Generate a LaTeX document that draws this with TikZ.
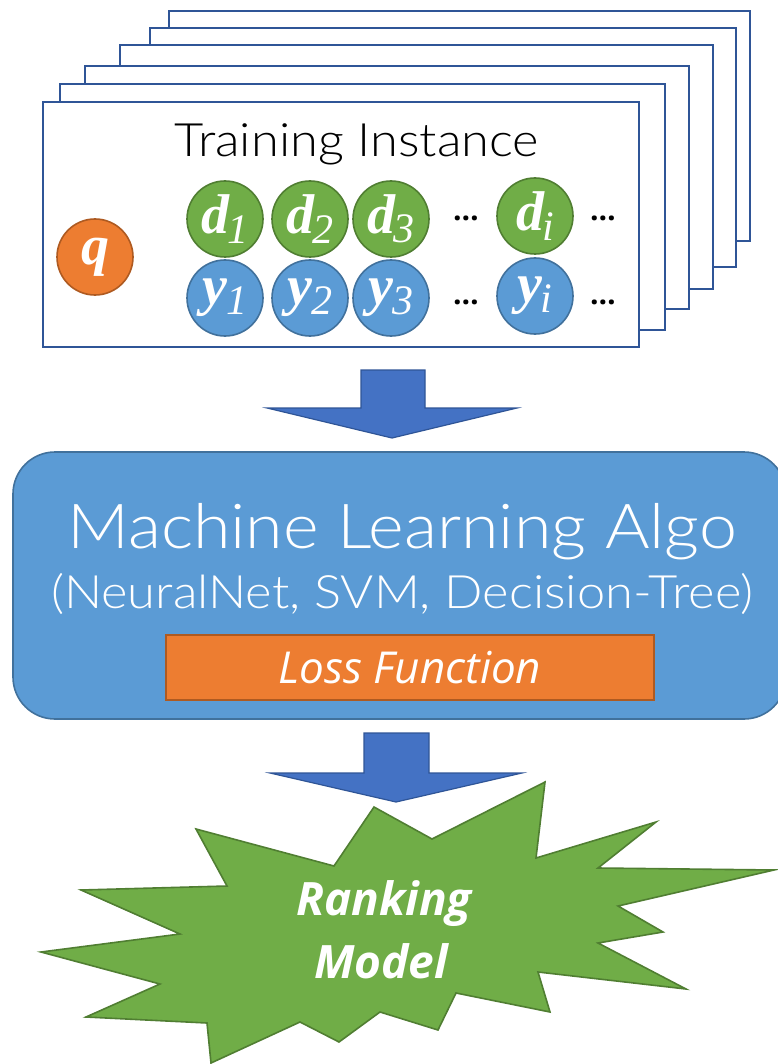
\documentclass[tikz,border=0pt]{standalone}
\usepackage{fontspec}
\setmainfont{Open Sans}
\newfontfamily\lightsans{Lato}[UprightFont=* Light, FakeStretch=1.1]
\newfontfamily\varserif{Liberation Serif}[ItalicFont={Liberation Serif Italic}, BoldItalicFont={Liberation Serif Bold Italic}]
\definecolor{frameblue}{HTML}{2F5597}
\definecolor{arrowblue}{HTML}{4472C4}
\definecolor{gfill}{HTML}{70AD47}
\definecolor{gdraw}{HTML}{507E32}
\definecolor{bfill}{HTML}{5B9BD5}
\definecolor{bdraw}{HTML}{41719C}
\definecolor{ofill}{HTML}{ED7D31}
\definecolor{odraw}{HTML}{AE5A21}
\tikzset{
  card/.style={draw=frameblue, fill=white, line width=2.2pt},
  ball/.style={circle, minimum size=76pt, inner sep=0pt, line width=1.6pt, text=white,
    font=\varserif\fontsize{56}{56}\selectfont\bfseries\itshape},
  dball/.style={ball, fill=gfill, draw=gdraw},
  yball/.style={ball, fill=bfill, draw=bdraw},
  qball/.style={ball, fill=ofill, draw=odraw},
  blockarrow/.style={fill=arrowblue, draw=frameblue, line width=1.2pt, line join=miter},
  dots/.style={anchor=base, inner sep=0pt, font=\fontsize{30}{30}\selectfont\bfseries},
}
\newcommand{\vlabel}[2]{#1\kern-0.03em\raisebox{-0.17em}{\fontsize{42}{42}\selectfont\mdseries\itshape #2}}
\begin{document}
\begin{tikzpicture}[x=1pt,y=-1pt]
\useasboundingbox (0,0) rectangle (777,1064);

% stack of training instances, back to front
\draw[card] (169,11) rectangle (750,241);
\draw[card] (150,28) rectangle (736,267);
\draw[card] (120,45) rectangle (713,289);
\draw[card] (85,66)  rectangle (689,309);
\draw[card] (60,84)  rectangle (665,330);
\draw[card] (43,102) rectangle (639,347);

\node[anchor=base, inner sep=0pt, font=\lightsans\fontsize{46}{46}\selectfont] (title) at (357,157) {Training Instance};

\node[qball] (q) at (95,257) {q};

\node[dball] (d1) at (225,219) {\vlabel{d}{1}};
\node[dball] (d2) at (310,219) {\vlabel{d}{2}};
\node[dball] (d3) at (391,219) {\vlabel{d}{3}};
\node[dball] (di) at (535,216) {\vlabel{d}{i}};
\node[yball] (y1) at (225,298) {\vlabel{y}{1}};
\node[yball] (y2) at (310,298) {\vlabel{y}{2}};
\node[yball] (y3) at (391,298) {\vlabel{y}{3}};
\node[yball] (yi) at (535,296) {\vlabel{y}{i}};

\node[dots] (dd1) at (466,221) {…};
\node[dots] (dd2) at (603,221) {…};
\node[dots] (yd1) at (466,305) {…};
\node[dots] (yd2) at (603,305) {…};

% first block arrow
\draw[blockarrow] (361,370) -- (425,370) -- (425,408) -- (517,408) -- (392,438)
  -- (267,408) -- (361,408) -- cycle;

% learning algorithm panel
\draw[fill=bfill, draw=bdraw, line width=1.6pt, rounded corners=42pt] (13,452) rectangle (786,719);
\node[anchor=base, inner sep=0pt, text=white, font=\lightsans\fontsize{62}{62}\selectfont] (algo) at (402,548) {Machine Learning Algo};
\node[anchor=base, inner sep=0pt, text=white, font=\lightsans\fontsize{46}{46}\selectfont] (kinds) at (402,608) {(NeuralNet, SVM, Decision-Tree)};
\draw[fill=ofill, draw=odraw, line width=1.6pt] (166,635) rectangle (654,700);
\node[anchor=base, inner sep=0pt, text=white, font=\fontsize{44}{44}\selectfont\itshape] (loss) at (410,683) {Loss Function};

% second block arrow
\draw[blockarrow] (364,733) -- (429,733) -- (429,773) -- (522,773) -- (396,802)
  -- (270,773) -- (364,773) -- cycle;

% ranking model burst
\draw[fill=gfill, draw=gdraw, line width=1.6pt, line join=miter]
  (374,807) -- (432,839) -- (545,782) -- (536,858) -- (656,822) -- (598,868)
  -- (774,870) -- (618,906) -- (663,932) -- (598,943) -- (686,989) -- (538,972)
  -- (550,1012) -- (456,993) -- (438,1030) -- (380,1012) -- (339,1042)
  -- (300,1022) -- (211,1063) -- (207,1023) -- (86,1017) -- (160,984)
  -- (41,952) -- (180,934) -- (81,890) -- (227,886) -- (196,829) -- (334,866)
  -- cycle;
\node[anchor=base, inner sep=0pt, text=white, font=\fontsize{46}{46}\selectfont\bfseries\itshape] (rank) at (384,915) {Ranking};
\node[anchor=base, inner sep=0pt, text=white, font=\fontsize{46}{46}\selectfont\bfseries\itshape] (model) at (381,978) {Model};
\end{tikzpicture}
\end{document}
